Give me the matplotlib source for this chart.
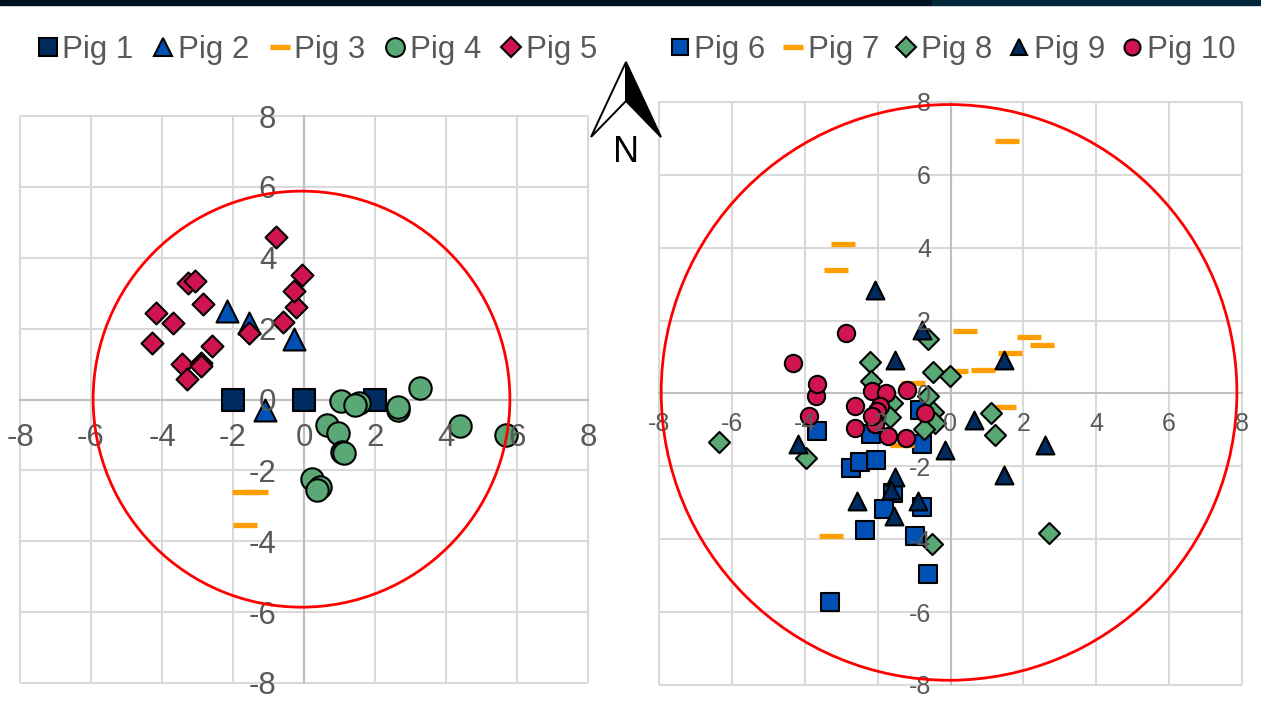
import matplotlib
matplotlib.use("Agg")
import matplotlib.pyplot as plt
from matplotlib.lines import Line2D
from matplotlib.patches import Circle, Polygon, Rectangle

plt.rcParams['font.family'] = ['Liberation Sans', 'DejaVu Sans']
plt.rcParams['axes.unicode_minus'] = False

W, H = 1261, 711

NAVY = '#002b5f'
BLUE = '#0050b5'
ORANGE = '#ff9e00'
GREEN = '#59a876'
CRIMSON = '#cf144f'
GRID = '#d9d9d9'
AXIS = '#bfbfbf'
TEXT = '#595959'

ticks = [-8, -6, -4, -2, 0, 2, 4, 6, 8]

pig1_x = [-2, 0, 2]
pig1_y = [0, 0, 0]
pig2_x = [-2.17, -1.55, -0.28, -1.10]
pig2_y = [2.50, 2.15, 1.70, -0.30]
pig3_x = [-1.69, -1.35, -1.66]
pig3_y = [-2.60, -2.60, -3.55]
pig4_x = [1.04, 1.55, 1.44, 2.65, 2.65, 3.27, 4.39, 5.69, 0.65, 0.96, 1.07, 1.13, 0.23, 0.45, 0.37]
pig4_y = [-0.04, -0.10, -0.15, -0.30, -0.21, 0.32, -0.75, -1.00, -0.72, -0.94, -1.48, -1.51, -2.24, -2.46, -2.55]
pig5_x = [-0.80, -0.06, -0.23, -0.28, -0.58, -1.55, -3.27, -3.07, -2.85, -4.17, -3.68, -4.28, -2.59, -3.45, -2.90, -2.90, -3.30]
pig5_y = [4.58, 3.51, 2.61, 3.06, 2.18, 1.87, 3.28, 3.34, 2.69, 2.44, 2.15, 1.59, 1.51, 1.00, 1.03, 0.94, 0.58]

pig6_x = [-3.67, -2.18, -0.78, -0.84, -2.73, -2.49, -2.05, -1.58, -1.83, -0.78, -2.35, -0.98, -0.62, -3.31]
pig6_y = [-1.03, -1.11, -1.39, -0.45, -2.05, -1.88, -1.83, -2.73, -3.17, -3.12, -3.75, -3.91, -4.96, -5.73]
pig7_x = [0.40, 2.16, 2.51, 1.63, 0.89, 0.14, -1.03, 1.48, -1.33, 1.55, -2.95, -3.15, -3.28]
pig7_y = [1.72, 1.55, 1.33, 1.11, 0.65, 0.62, 0.29, -0.37, -1.41, 6.94, 4.11, 3.39, -3.91]
pig8_x = [-0.62, -2.21, -2.18, -0.48, -0.01, -0.62, -1.61, -1.66, -0.48, -0.43, -0.73, 1.11, 1.22, -3.97, -6.36, 2.71, -0.51]
pig8_y = [1.50, 0.87, 0.34, 0.59, 0.48, -0.07, -0.26, -0.65, -0.51, -0.81, -0.98, -0.54, -1.14, -1.77, -1.33, -3.83, -4.13]
pig9_x = [-2.07, -0.78, -1.52, 1.47, 0.65, 2.60, -0.15, -4.19, 1.47, -1.52, -1.63, -2.57, -0.89, -1.55]
pig9_y = [2.84, 1.74, 0.92, 0.92, -0.73, -1.41, -1.55, -1.39, -2.24, -2.29, -2.65, -2.95, -2.95, -3.37]
pig10_x = [-2.87, -4.33, -3.70, -3.67, -3.89, -2.62, -2.62, -2.16, -1.77, -1.20, -1.94, -2.02, -2.07, -2.16, -1.72, -1.22, -0.70]
pig10_y = [1.66, 0.84, -0.07, 0.26, -0.62, -0.34, -0.95, 0.07, 0.01, 0.10, -0.34, -0.48, -0.84, -0.62, -1.17, -1.22, -0.54]

left_radius = 5.87
left_center = (-0.07, 0.01)
right_radius = 7.9
right_center = (-0.04, 0.03)


def px_axes(fig, x0, x1, y0, y1):
    return fig.add_axes([x0 / W, 1 - y1 / H, (x1 - x0) / W, (y1 - y0) / H])


def setup(ax, size, xpad, ypad):
    ax.set_xlim(-8, 8)
    ax.set_ylim(-8, 8)
    ax.set_xticks(ticks)
    ax.set_yticks(ticks)
    ax.vlines(ticks, -8, 8, color=GRID, lw=1.5, zorder=0, clip_on=False)
    ax.hlines(ticks, -8, 8, color=GRID, lw=1.5, zorder=0, clip_on=False)
    for s in ['top', 'right']:
        ax.spines[s].set_visible(False)
    for s in ['left', 'bottom']:
        ax.spines[s].set_position('zero')
        ax.spines[s].set_color(AXIS)
        ax.spines[s].set_linewidth(1.5)
    ax.tick_params(axis='x', length=0, labelsize=size, labelcolor=TEXT, pad=xpad)
    ax.tick_params(axis='y', length=0, labelsize=size, labelcolor=TEXT, pad=ypad)
    # labels sit on top of the markers in the original
    ax.xaxis.set_zorder(10)
    ax.yaxis.set_zorder(10)
    ax.patch.set_visible(False)


def dots(ax, x, y, marker, color, s, z):
    ax.scatter(x, y, marker=marker, s=s, c=color, edgecolors='black', linewidths=1.5, zorder=z, clip_on=False)


def dashes(ax, x, y, z):
    ax.plot(x, y, ls='none', marker='_', ms=17, mew=3.8, color=ORANGE, zorder=z)


def handle(marker, color, ms, label):
    if marker == '_':
        return Line2D([], [], ls='none', marker='_', ms=ms, mew=3.8, color=color, label=label)
    return Line2D([], [], ls='none', marker=marker, ms=ms, mfc=color, mec='black', mew=1.5, label=label)


fig = plt.figure(figsize=(W / 100, H / 100), dpi=100)

# dark strip along the top of the slide
fig.patches.append(Rectangle((0, 1 - 5 / H), 932 / W, 5 / H, transform=fig.transFigure, color='#02111f'))
fig.patches.append(Rectangle((932 / W, 1 - 5 / H), 1 - 932 / W, 5 / H, transform=fig.transFigure, color='#03283c'))

ax1 = px_axes(fig, 20, 588, 116, 683)
setup(ax1, 22.5, 17, 20)
dots(ax1, pig1_x, pig1_y, 's', NAVY, 235, 3)
dots(ax1, pig2_x, pig2_y, '^', BLUE, 250, 4)
dashes(ax1, pig3_x, pig3_y, 5)
dots(ax1, pig4_x, pig4_y, 'o', GREEN, 260, 6)
dots(ax1, pig5_x, pig5_y, 'D', CRIMSON, 125, 7)
ax1.add_patch(Circle(left_center, left_radius, fill=False, ec='#ff0000', lw=2, zorder=11, clip_on=False))

ax2 = px_axes(fig, 659, 1242, 102, 685)
setup(ax2, 18, 13, 14)
dots(ax2, pig6_x, pig6_y, 's', BLUE, 155, 3)
dashes(ax2, pig7_x, pig7_y, 4)
dots(ax2, pig8_x, pig8_y, 'D', GREEN, 115, 5)
dots(ax2, pig9_x, pig9_y, '^', NAVY, 165, 6)
dots(ax2, pig10_x, pig10_y, 'o', CRIMSON, 155, 7)
ax2.add_patch(Circle(right_center, right_radius, fill=False, ec='#ff0000', lw=2, zorder=11, clip_on=False))

left_handles = [handle('s', NAVY, 13.5, 'Pig 1'), handle('^', BLUE, 13.5, 'Pig 2'), handle('_', ORANGE, 15, 'Pig 3'),
                handle('o', GREEN, 13.5, 'Pig 4'), handle('D', CRIMSON, 10, 'Pig 5')]
right_handles = [handle('s', BLUE, 11.5, 'Pig 6'), handle('_', ORANGE, 15, 'Pig 7'), handle('D', GREEN, 10, 'Pig 8'),
                 handle('^', NAVY, 11.5, 'Pig 9'), handle('o', CRIMSON, 11.5, 'Pig 10')]
legend_specs = [(left_handles, 35 / W, 0.55), (right_handles, 667 / W, 0.46)]
for hs, x0, gap in legend_specs:
    fig.legend(handles=hs, ncol=5, loc='center left', bbox_to_anchor=(x0, 1 - 50 / H), frameon=False,
               fontsize=22.5, labelcolor=TEXT, handlelength=0.8, handletextpad=0.08, columnspacing=gap,
               borderpad=0, borderaxespad=0)

# north arrow
fig.patches.append(Polygon([(591 / W, 1 - 137 / H), (626 / W, 1 - 62 / H), (626 / W, 1 - 101 / H)], closed=True,
                           transform=fig.transFigure, fc='white', ec='black', lw=1.4, zorder=20))
fig.patches.append(Polygon([(626 / W, 1 - 62 / H), (661 / W, 1 - 137 / H), (626 / W, 1 - 101 / H)], closed=True,
                           transform=fig.transFigure, fc='black', ec='black', lw=1.4, zorder=20))
fig.text(626 / W, 1 - 152 / H, 'N', fontsize=26, color='black', ha='center', va='center', zorder=21)

fig.savefig('out.png', dpi=100)
